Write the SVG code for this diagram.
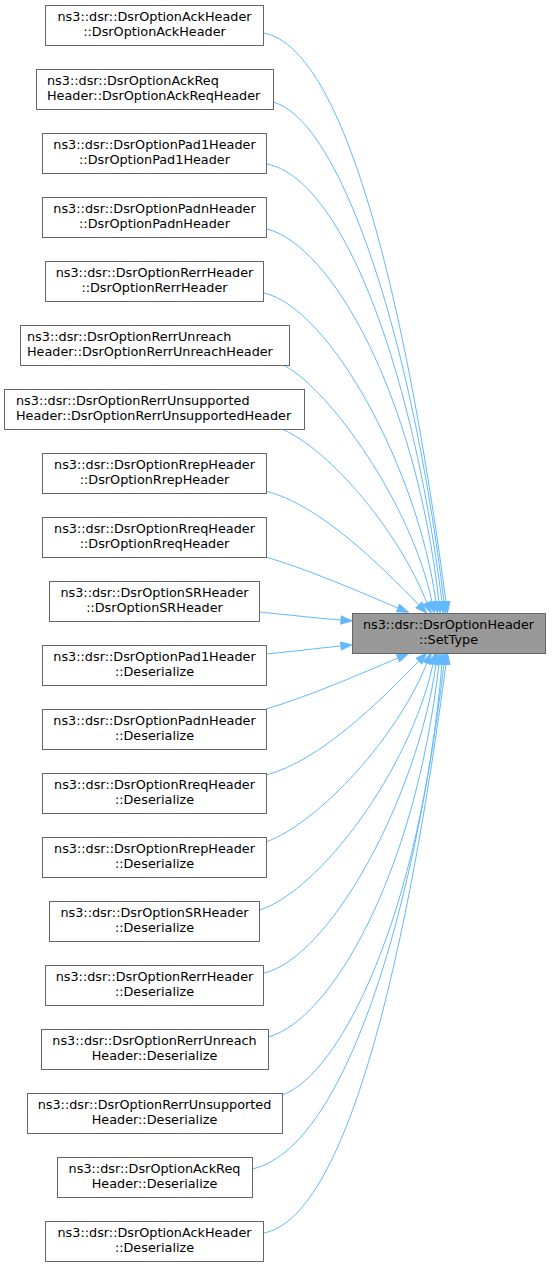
<svg xmlns="http://www.w3.org/2000/svg" width="552" height="1267" viewBox="0 0 552 1267">
<style>
.n rect{fill:#ffffff;stroke:#666666;stroke-width:1}
.t rect{fill:#999999;stroke:#666666;stroke-width:1}
text{font-family:"DejaVu Sans","Liberation Sans",sans-serif;font-size:12.8px;fill:#000000}
.c{text-anchor:middle}
.s{text-anchor:start}
.e path{fill:none;stroke:#63b8ff;stroke-width:1;marker-end:url(#ah)}
</style>
<defs>
<marker id="ah" markerUnits="userSpaceOnUse" markerWidth="12" markerHeight="9" refX="0" refY="4.5" orient="auto" overflow="visible">
<path d="M0,0.5 L11,4.5 L0,8.5 Z" fill="#63b8ff" stroke="#63b8ff" stroke-width="1"/>
</marker>
</defs>
<g id="edges" class="e">
<path d="M264,33 C350,50 410,330 446,602"/>
<path d="M273,102 C340,120 412,335 444,602"/>
<path d="M267,164 C338,178 410,350 442,602"/>
<path d="M267,229 C330,245 415,390 439,602"/>
<path d="M264,293 C330,308 418,470 436,602"/>
<path d="M285,366 C330,390 412,505 432,602"/>
<path d="M282,429 C330,450 398,530 427,603"/>
<path d="M266,491 C320,505 380,565 419,605"/>
<path d="M266,557 C310,570 360,592 398,608"/>
<path d="M259,612 C290,615 315,618 341,620"/>
<path d="M266,654 C297,651 320,648 341,646"/>
<path d="M266,709 C310,696 360,674 398,658"/>
<path d="M266,775 C320,761 380,701 419,661"/>
<path d="M266,842 C320,822 398,736 427,663"/>
<path d="M260,910 C320,890 410,770 433,664"/>
<path d="M264,973 C330,958 418,796 436,664"/>
<path d="M268,1037 C330,1021 415,876 439,664"/>
<path d="M282,1095 C340,1075 420,916 442,664"/>
<path d="M252,1169 C340,1150 412,931 444,664"/>
<path d="M264,1233 C350,1216 410,936 446,664"/>
</g>
<g id="target" class="t">
<rect x="352.5" y="613.5" width="193" height="40"/>
<text class="c" x="448.5" y="629">ns3::dsr::DsrOptionHeader</text>
<text class="c" x="448.5" y="643.5">::SetType</text>
</g>
<g id="n1" class="n"><rect x="45.5" y="5.5" width="218" height="40"/>
<text class="c" x="154.5" y="21">ns3::dsr::DsrOptionAckHeader</text><text class="c" x="154.5" y="35.5">::DsrOptionAckHeader</text></g>
<g id="n2" class="n"><rect x="36.5" y="69.5" width="237" height="40"/>
<text class="s" x="47" y="85">ns3::dsr::DsrOptionAckReq</text><text class="s" x="47" y="99.5">Header::DsrOptionAckReqHeader</text></g>
<g id="n3" class="n"><rect x="42.5" y="133.5" width="224" height="40"/>
<text class="c" x="154.5" y="149">ns3::dsr::DsrOptionPad1Header</text><text class="c" x="154.5" y="163.5">::DsrOptionPad1Header</text></g>
<g id="n4" class="n"><rect x="42.5" y="197.5" width="224" height="40"/>
<text class="c" x="154.5" y="213">ns3::dsr::DsrOptionPadnHeader</text><text class="c" x="154.5" y="227.5">::DsrOptionPadnHeader</text></g>
<g id="n5" class="n"><rect x="45.5" y="261.5" width="218" height="40"/>
<text class="c" x="154.5" y="277">ns3::dsr::DsrOptionRerrHeader</text><text class="c" x="154.5" y="291.5">::DsrOptionRerrHeader</text></g>
<g id="n6" class="n"><rect x="20.5" y="325.5" width="269" height="40"/>
<text class="s" x="27" y="341">ns3::dsr::DsrOptionRerrUnreach</text><text class="s" x="27" y="355.5">Header::DsrOptionRerrUnreachHeader</text></g>
<g id="n7" class="n"><rect x="4.5" y="389.5" width="300" height="40"/>
<text class="s" x="16" y="405">ns3::dsr::DsrOptionRerrUnsupported</text><text class="s" x="16" y="419.5">Header::DsrOptionRerrUnsupportedHeader</text></g>
<g id="n8" class="n"><rect x="42.5" y="453.5" width="224" height="40"/>
<text class="c" x="154.5" y="469">ns3::dsr::DsrOptionRrepHeader</text><text class="c" x="154.5" y="483.5">::DsrOptionRrepHeader</text></g>
<g id="n9" class="n"><rect x="42.5" y="517.5" width="224" height="40"/>
<text class="c" x="154.5" y="533">ns3::dsr::DsrOptionRreqHeader</text><text class="c" x="154.5" y="547.5">::DsrOptionRreqHeader</text></g>
<g id="n10" class="n"><rect x="49.5" y="581.5" width="210" height="40"/>
<text class="c" x="154.5" y="597">ns3::dsr::DsrOptionSRHeader</text><text class="c" x="154.5" y="611.5">::DsrOptionSRHeader</text></g>
<g id="n11" class="n"><rect x="42.5" y="645.5" width="224" height="40"/>
<text class="c" x="154.5" y="661">ns3::dsr::DsrOptionPad1Header</text><text class="c" x="154.5" y="675.5">::Deserialize</text></g>
<g id="n12" class="n"><rect x="42.5" y="709.5" width="224" height="40"/>
<text class="c" x="154.5" y="725">ns3::dsr::DsrOptionPadnHeader</text><text class="c" x="154.5" y="739.5">::Deserialize</text></g>
<g id="n13" class="n"><rect x="42.5" y="773.5" width="224" height="40"/>
<text class="c" x="154.5" y="789">ns3::dsr::DsrOptionRreqHeader</text><text class="c" x="154.5" y="803.5">::Deserialize</text></g>
<g id="n14" class="n"><rect x="42.5" y="837.5" width="224" height="40"/>
<text class="c" x="154.5" y="853">ns3::dsr::DsrOptionRrepHeader</text><text class="c" x="154.5" y="867.5">::Deserialize</text></g>
<g id="n15" class="n"><rect x="49.5" y="901.5" width="210" height="40"/>
<text class="c" x="154.5" y="917">ns3::dsr::DsrOptionSRHeader</text><text class="c" x="154.5" y="931.5">::Deserialize</text></g>
<g id="n16" class="n"><rect x="45.5" y="965.5" width="218" height="40"/>
<text class="c" x="154.5" y="981">ns3::dsr::DsrOptionRerrHeader</text><text class="c" x="154.5" y="995.5">::Deserialize</text></g>
<g id="n17" class="n"><rect x="41.5" y="1029.5" width="227" height="40"/>
<text class="c" x="154.5" y="1045">ns3::dsr::DsrOptionRerrUnreach</text><text class="c" x="154.5" y="1059.5">Header::Deserialize</text></g>
<g id="n18" class="n"><rect x="27.5" y="1093.5" width="255" height="40"/>
<text class="c" x="154.5" y="1109">ns3::dsr::DsrOptionRerrUnsupported</text><text class="c" x="154.5" y="1123.5">Header::Deserialize</text></g>
<g id="n19" class="n"><rect x="57.5" y="1157.5" width="195" height="40"/>
<text class="c" x="154.5" y="1173">ns3::dsr::DsrOptionAckReq</text><text class="c" x="154.5" y="1187.5">Header::Deserialize</text></g>
<g id="n20" class="n"><rect x="45.5" y="1221.5" width="218" height="40"/>
<text class="c" x="154.5" y="1237">ns3::dsr::DsrOptionAckHeader</text><text class="c" x="154.5" y="1251.5">::Deserialize</text></g>
</svg>
